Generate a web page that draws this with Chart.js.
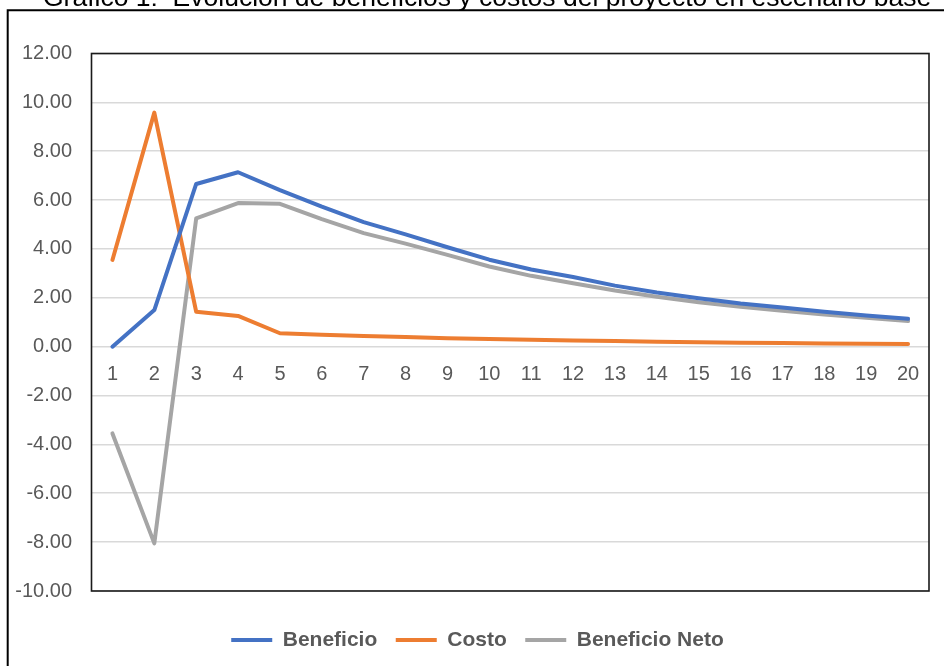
<!DOCTYPE html>
<html>
<head>
<meta charset="utf-8">
<script src="https://cdn.jsdelivr.net/npm/chart.js@4.4.1/dist/chart.umd.min.js"></script>
<style>
	html, body { margin: 0; padding: 0; background: #fff; overflow: hidden; }
	#wrap { position: relative; width: 944px; height: 666px; overflow: hidden; }
	#titulo {
		position: absolute; left: 43px; top: -16px;
		font: 26.5px/26px "Liberation Sans", Arial, sans-serif;
		color: #000; white-space: nowrap;
	}
	#grafico { position: absolute; left: 0; top: 0; }
</style>
</head>
<body>
<div id="wrap">
	<canvas id="grafico" width="944" height="666"></canvas>
	<div id="titulo">Gráfico 1:&nbsp; Evolución de beneficios y costos del proyecto en escenario base</div>
</div>
<script>
var anios = ['1','2','3','4','5','6','7','8','9','10','11','12','13','14','15','16','17','18','19','20'];
var beneficio = [0.00, 1.50, 6.66, 7.14, 6.41, 5.73, 5.10, 4.60, 4.07, 3.56, 3.16, 2.85, 2.50, 2.22, 1.98, 1.77, 1.60, 1.43, 1.28, 1.14];
var costo = [3.55, 9.58, 1.43, 1.26, 0.55, 0.49, 0.44, 0.40, 0.35, 0.31, 0.28, 0.25, 0.23, 0.20, 0.18, 0.16, 0.15, 0.13, 0.12, 0.11];
var beneficioNeto = [-3.55, -8.05, 5.25, 5.88, 5.85, 5.22, 4.65, 4.22, 3.76, 3.28, 2.90, 2.60, 2.30, 2.04, 1.82, 1.63, 1.47, 1.32, 1.18, 1.05];

var fuente = "'Liberation Sans', Arial, sans-serif";
var gris = '#595959';

// marco exterior y borde del area de trazado
var marcos = {
	id: 'marcos',
	afterLayout: function(chart) {
		// la leyenda va algo mas a la derecha que el centro del lienzo
		if (chart.legend) {
			chart.legend.left += 8.5;
			chart.legend.right += 8.5;
		}
	},
	beforeDraw: function(chart) {
		var ctx = chart.ctx;
		ctx.save();
		ctx.fillStyle = '#fff';
		ctx.fillRect(0, 0, chart.width, chart.height);
		ctx.strokeStyle = '#000';
		ctx.lineWidth = 2;
		ctx.beginPath();
		ctx.moveTo(7.7, chart.height);
		ctx.lineTo(7.7, 10.3);
		ctx.lineTo(chart.width, 10.3);
		ctx.stroke();
		ctx.restore();
	},
	afterDraw: function(chart) {
		var a = chart.chartArea;
		var ctx = chart.ctx;
		ctx.save();
		ctx.strokeStyle = '#1a1a1a';
		ctx.lineWidth = 1.6;
		ctx.strokeRect(a.left, a.top, a.right - a.left, a.bottom - a.top);
		ctx.restore();
	}
};

function serie(nombre, datos, color) {
	return {
		label: nombre,
		data: datos,
		borderColor: color,
		backgroundColor: color,
		borderWidth: 4,
		borderCapStyle: 'round',
		borderJoinStyle: 'round',
		pointRadius: 0,
		tension: 0
	};
}

new Chart(document.getElementById('grafico'), {
	type: 'line',
	data: {
		labels: anios,
		datasets: [
			serie('Beneficio', beneficio, '#4472C4'),
			serie('Costo', costo, '#ED7D31'),
			serie('Beneficio Neto', beneficioNeto, '#A5A5A5')
		]
	},
	options: {
		responsive: false,
		animation: false,
		devicePixelRatio: 1,
		layout: { padding: { left: 9, right: 15, top: 53.5, bottom: 5.5 } },
		scales: {
			x: {
				position: { y: 0 },
				offset: true,
				grid: { display: false },
				border: { display: false },
				ticks: { color: gris, font: { family: fuente, size: 20 }, padding: 8, maxRotation: 0, autoSkip: false }
			},
			y: {
				min: -10,
				max: 12,
				afterFit: function(scale) { scale.width = 82.5; },
				grid: { color: '#d9d9d9', lineWidth: 1.6, drawTicks: false },
				border: { display: false },
				ticks: {
					stepSize: 2,
					color: gris,
					padding: 19.5,
					font: { family: fuente, size: 20 },
					callback: function(v) { return v.toFixed(2); }
				}
			}
		},
		plugins: {
			tooltip: { enabled: false },
			legend: {
				position: 'bottom',
				title: { display: true, text: '', font: { size: 20, lineHeight: 1 }, padding: 0 },
				labels: {
					boxWidth: 41,
					boxHeight: 4,
					padding: 18.5,
					color: gris,
					font: { family: fuente, size: 21, weight: 'bold' },
					generateLabels: function(chart) {
						var items = Chart.defaults.plugins.legend.labels.generateLabels(chart);
						items.forEach(function(it) {
							it.fillStyle = it.strokeStyle;
							it.lineWidth = 0;
						});
						return items;
					}
				}
			}
		}
	},
	plugins: [marcos]
});
</script>
</body>
</html>
